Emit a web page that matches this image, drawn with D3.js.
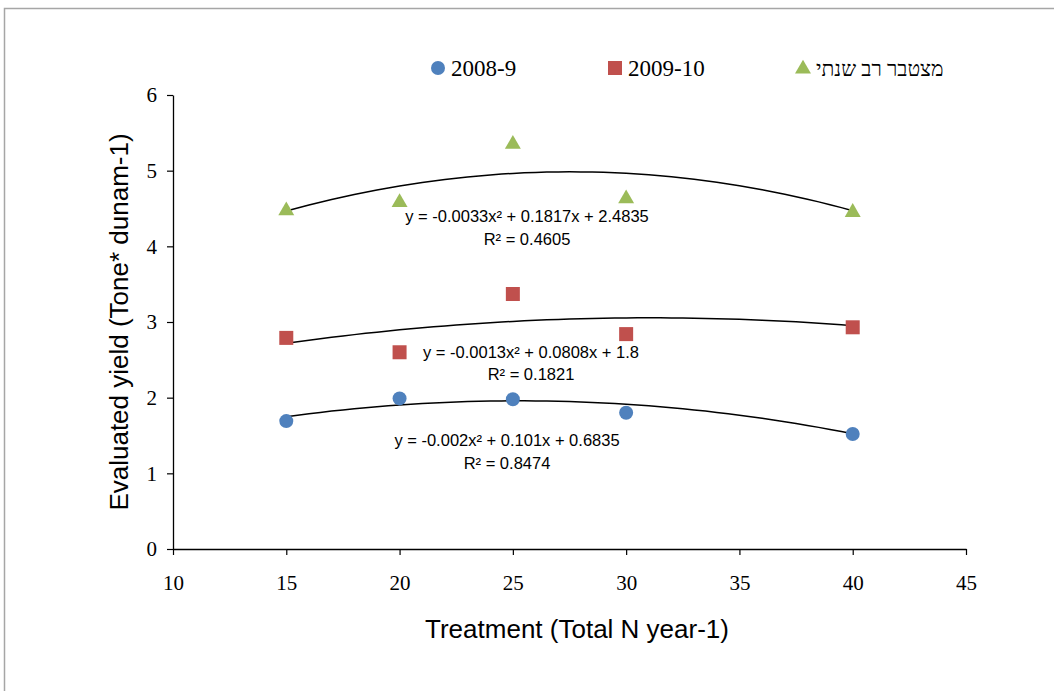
<!DOCTYPE html>
<html>
<head>
<meta charset="utf-8">
<script src="https://d3js.org/d3.v7.min.js"></script>
<style>
  body { margin: 0; background: #fff; }
</style>
</head>
<body>
<svg width="1054" height="691"></svg>
<script>
// treatments (total N per year)
var treatments = [15, 20, 25, 30, 40];

// yields per season
var yield0809 = [1.69, 1.99, 1.98, 1.80, 1.52];
var yield0910 = [2.79, 2.60, 3.37, 2.84, 2.93];
var yieldCum  = [4.47, 4.58, 5.35, 4.63, 4.45];

// trendline coefficients (a, b, c) for y = a x^2 + b x + c
var trend0809 = [-0.002, 0.101, 0.6835];
var trend0910 = [-0.0013, 0.0808, 1.8];
var trendCum  = [-0.0033, 0.1817, 2.4835];

var eqLabels = [
  ["y = -0.0033x\u00B2 + 0.1817x + 2.4835", "R\u00B2 = 0.4605"],
  ["y = -0.0013x\u00B2 + 0.0808x + 1.8", "R\u00B2 = 0.1821"],
  ["y = -0.002x\u00B2 + 0.101x + 0.6835", "R\u00B2 = 0.8474"]
];

var seriesNames = ["2008-9", "2009-10", "\u05DE\u05E6\u05D8\u05D1\u05E8 \u05E8\u05D1 \u05E9\u05E0\u05EA\u05D9"];

var xTicks = [10, 15, 20, 25, 30, 35, 40, 45];
var yTicks = [0, 1, 2, 3, 4, 5, 6];

var svg = d3.select("svg");

// outer chart frame
svg.append("rect")
    .attr("x", 4.5).attr("y", 8.5)
    .attr("width", 1060).attr("height", 700)
    .attr("fill", "none")
    .attr("stroke", "#a6a6a6")
    .attr("stroke-width", 1.5);

var x = d3.scaleLinear().domain([10, 45]).range([173, 966]);
var y = d3.scaleLinear().domain([0, 6]).range([549, 95]);

var xAxis = svg.append("g")
    .attr("transform", "translate(0," + y(0) + ")")
    .call(d3.axisBottom(x).tickValues(xTicks).tickFormat(d3.format("d"))
      .tickSizeInner(6).tickSizeOuter(0).tickPadding(20));

var yAxis = svg.append("g")
    .attr("transform", "translate(" + x(10) + ",0)")
    .call(d3.axisLeft(y).tickValues(yTicks).tickFormat(d3.format("d"))
      .tickSizeInner(6).tickSizeOuter(0).tickPadding(10));

[xAxis, yAxis].forEach(function(g) {
  g.select(".domain").attr("stroke", "#000").attr("stroke-width", 1.3);
  g.selectAll(".tick line").attr("stroke", "#000").attr("stroke-width", 1.2);
  g.selectAll(".tick text")
      .attr("fill", "#000")
      .attr("font-family", "Liberation Serif, serif")
      .attr("font-size", "21px");
});

// axis titles
svg.append("text")
    .attr("x", 577).attr("y", 638)
    .attr("text-anchor", "middle")
    .attr("font-family", "Liberation Sans, Arial, sans-serif")
    .attr("font-size", "26px")
    .text("Treatment (Total N year-1)");

svg.append("text")
    .attr("transform", "translate(128,322) rotate(-90)")
    .attr("text-anchor", "middle")
    .attr("font-family", "Liberation Sans, Arial, sans-serif")
    .attr("font-size", "26px")
    .text("Evaluated yield (Tone* dunam-1)");

// trendlines
function poly(c) {
  return function(v) { return c[0] * v * v + c[1] * v + c[2]; };
}
var xs = d3.range(15, 40.01, 0.5);
var line = d3.line()
    .x(function(d) { return x(d[0]); })
    .y(function(d) { return y(d[1]); });

[trendCum, trend0910, trend0809].forEach(function(c) {
  var f = poly(c);
  svg.append("path")
      .datum(xs.map(function(v) { return [v, f(v)]; }))
      .attr("d", line)
      .attr("fill", "none")
      .attr("stroke", "#000")
      .attr("stroke-width", 1.5);
});

// markers
var blue = "#4f81bd", red = "#c0504d", green = "#9bbb59";

svg.append("g").selectAll("circle")
    .data(treatments)
    .enter().append("circle")
      .attr("cx", function(d) { return x(d); })
      .attr("cy", function(d, i) { return y(yield0809[i]); })
      .attr("r", 7)
      .attr("fill", blue);

svg.append("g").selectAll("rect")
    .data(treatments)
    .enter().append("rect")
      .attr("x", function(d) { return x(d) - 7; })
      .attr("y", function(d, i) { return y(yield0910[i]) - 7; })
      .attr("width", 14).attr("height", 14)
      .attr("fill", red);

var tri = d3.symbol().type(d3.symbolTriangle).size(110);
svg.append("g").selectAll("path")
    .data(treatments)
    .enter().append("path")
      .attr("d", tri)
      .attr("transform", function(d, i) { return "translate(" + x(d) + "," + y(yieldCum[i]) + ")"; })
      .attr("fill", green);

// equation labels
var eqPos = [[527, 222, 245], [531, 358, 380], [507, 446, 469]];
eqLabels.forEach(function(lab, i) {
  var p = eqPos[i];
  svg.append("text")
      .attr("x", p[0]).attr("y", p[1])
      .attr("text-anchor", "middle")
      .attr("font-family", "Liberation Sans, Arial, sans-serif")
      .attr("font-size", "16.5px")
      .text(lab[0]);
  svg.append("text")
      .attr("x", p[0]).attr("y", p[2])
      .attr("text-anchor", "middle")
      .attr("font-family", "Liberation Sans, Arial, sans-serif")
      .attr("font-size", "16.5px")
      .text(lab[1]);
});

// legend
var legend = svg.append("g").attr("font-family", "Liberation Serif, serif").attr("font-size", "23px");
var legX = [438, 615, 803];
legend.append("circle").attr("cx", legX[0]).attr("cy", 68).attr("r", 7).attr("fill", blue);
legend.append("rect").attr("x", legX[1] - 7).attr("y", 61).attr("width", 14).attr("height", 14).attr("fill", red);
legend.append("path").attr("d", tri).attr("transform", "translate(" + legX[2] + ",69)").attr("fill", green);
seriesNames.forEach(function(n, i) {
  legend.append("text")
      .attr("x", legX[i] + 13).attr("y", 76)
      .attr("font-size", i === 2 ? "21px" : null)
      .text(n);
});
</script>
</body>
</html>
